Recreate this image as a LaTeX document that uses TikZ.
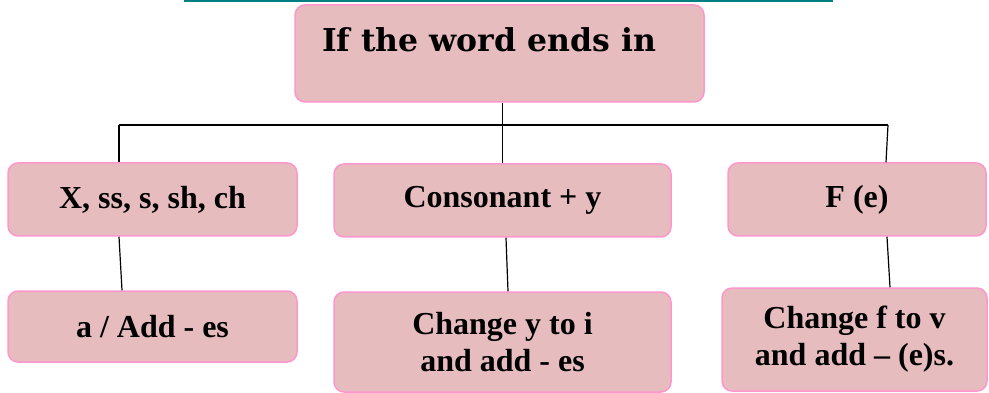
\documentclass[tikz,border=0pt]{standalone}
\usepackage{fontspec}
\setmainfont{Liberation Serif}
\newfontfamily\topfont{DejaVu Serif}
\usetikzlibrary{calc}
\definecolor{boxfill}{RGB}{230,188,190}
\definecolor{boxline}{RGB}{255,150,205}
\definecolor{tealline}{RGB}{0,128,128}
\tikzset{
  pinkbox/.style={draw=boxline, line width=1.5pt, fill=boxfill, rounded corners=10pt,
    inner sep=0pt, align=center, font=\bfseries\fontsize{32}{37}\selectfont},
  thinlink/.style={draw=black, line width=1.2pt},
  thicklink/.style={draw=black, line width=2pt},
}
\begin{document}
\begin{tikzpicture}[x=1pt,y=-1pt]
\useasboundingbox (0,0) rectangle (989,393);
% top rule
\coordinate (tl) at (184,1);
\coordinate (tr) at (833,1);
\draw[tealline, line width=2pt] (tl) -- (tr);
% boxes
\node[pinkbox, minimum width=409pt, minimum height=97pt] (top) at (499.5,53.5) {};
\node[anchor=base, font=\topfont\bfseries\fontsize{31.5}{36}\selectfont, inner sep=0pt] (toptext) at (489,52) {If the word ends in};
\node[pinkbox, minimum width=289pt, minimum height=73pt] (b1) at (152.5,199.5) {X, ss, s, sh, ch};
\node[pinkbox, minimum width=337pt, minimum height=73pt] (b2) at (502.5,200.5) {Consonant + y};
\node[pinkbox, minimum width=258pt, minimum height=73pt] (b3) at (857,199.5) {F (e)};
\node[pinkbox, minimum width=289pt, minimum height=71pt] (b4) at (152.5,326.5) {a / Add - es};
\node[pinkbox, minimum width=337pt, minimum height=100pt] (b5) at (502.5,342) {Change y to i\\and add - es};
\node[pinkbox, minimum width=265pt, minimum height=103pt] (b6) at (854.5,339.5) {Change f to v\\and add -- (e)s.};
% tree
\coordinate (hl) at (119,125);
\coordinate (hr) at (888,125);
\draw[thinlink] ([xshift=3pt]top.south) -- (b2.north);
\draw[thicklink] (hl) -- (hr);
\draw[thinlink] (hl) -- (hl |- b1.north);
\draw[thinlink] (hr) -- ([xshift=29pt]b3.north);
% lower links
\draw[thinlink] ([xshift=-33.5pt]b1.south) -- ([xshift=-30.5pt]b4.north);
\draw[thinlink] ([xshift=3.5pt]b2.south) -- ([xshift=5.5pt]b5.north);
\draw[thinlink] ([xshift=30pt]b3.south) -- ([xshift=35.5pt]b6.north);
\end{tikzpicture}
\end{document}
